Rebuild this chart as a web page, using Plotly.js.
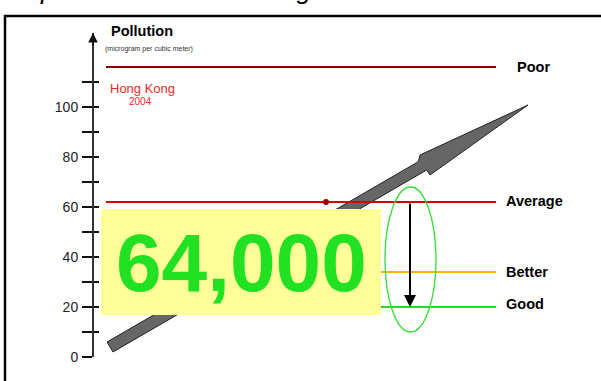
<!DOCTYPE html>
<html>
<head>
<meta charset="utf-8">
<script src="https://cdn.plot.ly/plotly-3.0.1.min.js"></script>
<style>
  html, body { margin: 0; padding: 0; background: #fff; }
  #chart { width: 601px; height: 381px; }
</style>
</head>
<body>
<div id="chart"></div>
<script>
// Pollution levels (micrograms per cubic metre)
const levelNames  = ['Poor', 'Average', 'Better', 'Good'];
const levelValues = [116, 62, 34, 20];
const levelColors = ['#8a0000', '#e00000', '#ffb000', '#22dd22'];

// Axis ticks
const tickValues = [0, 10, 20, 30, 40, 50, 60, 70, 80, 90, 100, 110];
const tickLabels = ['0', '', '20', '', '40', '', '60', '', '80', '', '100', ''];

// Headline figure
const headline = 64000;
const place = 'Hong Kong';
const year = '2004';

// ---- layout helpers (pixel position -> axis/paper units) ----
const W = 601, H = 381, TOP = 33, BOTTOM = 357;
const PX_PER_UNIT = 2.5;
const yMax = (BOTTOM - TOP) / PX_PER_UNIT;
const yv = p => (BOTTOM - p) / PX_PER_UNIT;          // pixel row -> y value
const yp = p => (BOTTOM - p) / (BOTTOM - TOP);       // pixel row -> paper y
const xp = p => p / W;                               // pixel col -> paper x
const FONT = 'Arial, "Liberation Sans", sans-serif';

const lineX0 = 106, lineX1 = 496;

const traces = levelValues.map((v, i) => ({
  type: 'scatter', mode: 'lines',
  x: [lineX0, lineX1], y: [v, v],
  line: { color: levelColors[i], width: 2 },
  hoverinfo: 'skip', showlegend: false
}));

// marker on the average line
traces.push({
  type: 'scatter', mode: 'markers',
  x: [326], y: [levelValues[1]],
  marker: { color: '#a00000', size: 6 },
  hoverinfo: 'skip', showlegend: false
});

// invisible trace to carry the inner tick axis
traces.push({
  type: 'scatter', mode: 'markers', x: [0], y: [0], yaxis: 'y2',
  marker: { opacity: 0 }, hoverinfo: 'skip', showlegend: false
});

const xPos = 93 / W;
const axisCommon = {
  range: [0, yMax], tickmode: 'array', tickvals: tickValues,
  showgrid: false, zeroline: false, fixedrange: true,
  anchor: 'free', position: xPos
};

// thick rising arrow (drawn beneath the level lines)
const arrowPts = [
  [107, 342], [418.3, 161.7], [420, 155], [528, 105],
  [430, 175], [426.7, 170], [113, 352]
];
const arrowPath = 'M ' + arrowPts.map(p => p[0] + ',' + yv(p[1])).join(' L ') + ' Z';

const shapes = [
  { type: 'path', xref: 'x', yref: 'y', path: arrowPath, layer: 'below',
    fillcolor: '#666666', line: { color: '#222', width: 1 } },
  // highlight box behind the headline figure
  { type: 'rect', xref: 'x', yref: 'y', x0: 101, x1: 381, y0: yv(315), y1: yv(209),
    layer: 'above', fillcolor: '#ffff99', line: { width: 0 } },
  // ellipse around the improvement
  { type: 'circle', xref: 'x', yref: 'y', x0: 385, x1: 436, y0: yv(332), y1: yv(187),
    layer: 'above', line: { color: '#33dd33', width: 1.3 } },
  // page frame
  { type: 'line', xref: 'paper', yref: 'paper', x0: xp(4), x1: xp(605), y0: yp(16), y1: yp(16),
    line: { color: '#000', width: 2.5 } },
  { type: 'line', xref: 'paper', yref: 'paper', x0: xp(5), x1: xp(5), y0: yp(15), y1: yp(390),
    line: { color: '#000', width: 2.5 } }
];

const annotations = [
  // heading, running off the top of the page
  { xref: 'paper', yref: 'paper', x: xp(10), y: yp(-10), xanchor: 'left', yanchor: 'middle',
    text: '<i>Improvement from Average to Good</i>', showarrow: false,
    font: { family: FONT, size: 26, color: '#000' } },
  { xref: 'x', yref: 'paper', x: 109, y: yp(31), xanchor: 'left', yanchor: 'middle',
    text: '<b>Pollution</b>', showarrow: false,
    font: { family: FONT, size: 14.5, color: '#000' } },
  { xref: 'x', yref: 'paper', x: 103, y: yp(49), xanchor: 'left', yanchor: 'middle',
    text: '(microgram per cubic meter)', showarrow: false,
    font: { family: FONT, size: 7, color: '#333' } },
  { xref: 'x', yref: 'paper', x: 108, y: yp(88), xanchor: 'left', yanchor: 'middle',
    text: place, showarrow: false,
    font: { family: FONT, size: 13, color: '#ee2a2a' } },
  { xref: 'x', yref: 'paper', x: 140, y: yp(102), xanchor: 'center', yanchor: 'middle',
    text: year, showarrow: false,
    font: { family: FONT, size: 10, color: '#ee2a2a' } },
  // headline figure
  { xref: 'x', yref: 'y', x: 241, y: yv(262), xanchor: 'center', yanchor: 'middle',
    text: '<b>' + headline.toLocaleString('en-US') + '</b>', showarrow: false,
    font: { family: FONT, size: 82, color: '#22e022' } },
  // y axis arrowhead
  { xref: 'x', yref: 'y', x: 93, y: yMax, ax: 0, ay: 14, text: '', showarrow: true,
    arrowhead: 2, arrowsize: 1.2, arrowwidth: 1.6, arrowcolor: '#111', standoff: 0 },
  // drop from Average to Good
  { xref: 'x', yref: 'y', x: 410, y: levelValues[3], axref: 'x', ayref: 'y',
    ax: 410, ay: levelValues[1], text: '', showarrow: true,
    arrowhead: 2, arrowsize: 1.2, arrowwidth: 2, arrowcolor: '#000', standoff: 0 }
];

// level labels
const labelX = [515, 504, 504, 504];
const labelShift = [0, 1.5, 0, 3.5];
levelNames.forEach((name, i) => {
  annotations.push({
    xref: 'x', yref: 'y', x: labelX[i], y: levelValues[i], yshift: labelShift[i],
    xanchor: 'left', yanchor: 'middle', text: '<b>' + name + '</b>', showarrow: false,
    font: { family: FONT, size: 14.5, color: '#000' }
  });
});

const layout = {
  width: W, height: H,
  margin: { l: 0, r: 0, t: TOP, b: H - BOTTOM, pad: 0 },
  paper_bgcolor: '#fff', plot_bgcolor: 'rgba(0,0,0,0)',
  showlegend: false,
  xaxis: { range: [0, W], visible: false, fixedrange: true },
  yaxis: Object.assign({}, axisCommon, {
    ticktext: tickLabels, ticks: 'outside', ticklen: 10, tickwidth: 2.5, tickcolor: '#111',
    showline: true, linecolor: '#333', linewidth: 2, ticklabelstandoff: 1,
    tickfont: { family: FONT, size: 14, color: '#222' }
  }),
  yaxis2: Object.assign({}, axisCommon, {
    overlaying: 'y', side: 'left', ticks: 'inside', ticklen: 5, tickwidth: 2.5,
    tickcolor: '#111', showline: false, showticklabels: false
  }),
  shapes: shapes,
  annotations: annotations
};

Plotly.newPlot('chart', traces, layout, { displayModeBar: false, staticPlot: true });
</script>
</body>
</html>
